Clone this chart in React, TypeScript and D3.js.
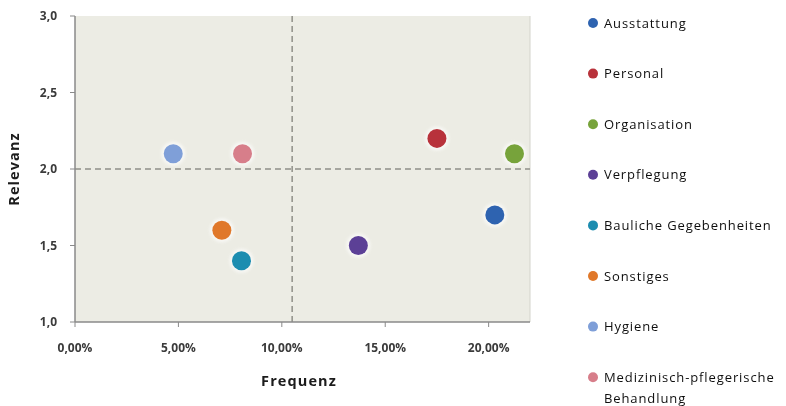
import React from "react";
import * as d3 from "d3";

const categories = [
  "Ausstattung",
  "Personal",
  "Organisation",
  "Verpflegung",
  "Bauliche Gegebenheiten",
  "Sonstiges",
  "Hygiene",
  "Medizinisch-pflegerische Behandlung",
];
const frequenz = [20.3, 17.5, 21.25, 13.7, 8.05, 7.1, 4.75, 8.1];
const relevanz = [1.7, 2.2, 2.1, 1.5, 1.4, 1.6, 2.1, 2.1];
const colors = ["#2f63b0", "#b8323a", "#77a33a", "#5b3f96", "#1e8db0", "#e0782a", "#7f9fd8", "#d77e8a"];
const xTicks = [0, 5, 10, 15, 20];
const yTicks = [1.0, 1.5, 2.0, 2.5, 3.0];
const xDivider = 10.5;
const yDivider = 2.0;

const W = 786;
const H = 406;
const plot = { left: 75, right: 530, top: 16, bottom: 322 };
const font = "'Open Sans', 'Liberation Sans', sans-serif";

export default function App() {
  const x = d3.scaleLinear().domain([0, 22]).range([plot.left, plot.right]);
  const y = d3.scaleLinear().domain([1, 3]).range([plot.bottom, plot.top]);
  const fmtX = (v: number) => d3.format(".2f")(v).replace(".", ",") + "%";
  const fmtY = (v: number) => d3.format(".1f")(v).replace(".", ",");

  const legendX = 593;
  const legendY0 = 23;
  const legendStep = 50.6;

  return (
    <svg width={W} height={H} style={{ position: "absolute", left: 0, top: 0, background: "#fff" }}>
      <defs>
        <filter id="glow" x="-50%" y="-50%" width="200%" height="200%">
          <feGaussianBlur stdDeviation="1.5" />
        </filter>
        <filter id="soft" x="-20%" y="-20%" width="140%" height="140%">
          <feGaussianBlur stdDeviation="0.5" />
        </filter>
      </defs>
      <g filter="url(#soft)">
        <rect
          x={plot.left}
          y={plot.top}
          width={plot.right - plot.left}
          height={plot.bottom - plot.top}
          fill="#ecece4"
        />
        <line x1={plot.right} x2={plot.right} y1={plot.top} y2={plot.bottom} stroke="#d4d4cc" strokeWidth={1} />

        {/* quadrant dividers */}
        <line
          x1={plot.left}
          x2={plot.right}
          y1={y(yDivider)}
          y2={y(yDivider)}
          stroke="#8f8f88"
          strokeWidth={1.5}
          strokeDasharray="6,4"
        />
        <line
          x1={x(xDivider)}
          x2={x(xDivider)}
          y1={plot.top}
          y2={plot.bottom}
          stroke="#8f8f88"
          strokeWidth={1.5}
          strokeDasharray="6,4"
        />

        {/* axes */}
        <line x1={plot.left} x2={plot.left} y1={plot.top} y2={plot.bottom} stroke="#8a8a8a" strokeWidth={1.5} />
        <line x1={plot.left} x2={plot.right} y1={plot.bottom} y2={plot.bottom} stroke="#8a8a8a" strokeWidth={1.5} />
        {yTicks.map((t) => (
          <g key={"y" + t}>
            <line x1={plot.left - 5} x2={plot.left} y1={y(t)} y2={y(t)} stroke="#8a8a8a" strokeWidth={1} />
            <text
              x={57}
              y={y(t)}
              dy="0.35em"
              textAnchor="end"
              fontFamily={font}
              fontSize={12}
              fontWeight={700}
              fill="#3a3a3a"
            >
              {fmtY(t)}
            </text>
          </g>
        ))}
        {xTicks.map((t) => (
          <g key={"x" + t}>
            <line x1={x(t)} x2={x(t)} y1={plot.bottom} y2={plot.bottom + 5} stroke="#8a8a8a" strokeWidth={1} />
            <text
              x={x(t)}
              y={348}
              dy="0.35em"
              textAnchor="middle"
              fontFamily={font}
              fontSize={12}
              fontWeight={700}
              fill="#3a3a3a"
            >
              {fmtX(t)}
            </text>
          </g>
        ))}

        {/* axis titles */}
        <text x={299} y={386} textAnchor="middle" fontFamily={font} fontSize={14.5} fontWeight={700} fill="#1a1a1a" letterSpacing={1.1}>
          Frequenz
        </text>
        <text
          transform={`translate(19,169) rotate(-90)`}
          textAnchor="middle"
          fontFamily={font}
          fontSize={14.5}
          fontWeight={700}
          fill="#1a1a1a"
          letterSpacing={1.1}
        >
          Relevanz
        </text>

        {/* points */}
        {categories.map((c, i) => (
          <g key={c}>
            <circle cx={x(frequenz[i])} cy={y(relevanz[i])} r={12} fill="#ffffff" opacity={0.6} filter="url(#glow)" />
            <circle cx={x(frequenz[i])} cy={y(relevanz[i])} r={9.5} fill={colors[i]} />
          </g>
        ))}

        {/* legend */}
        {categories.map((c, i) => {
          const ly = legendY0 + i * legendStep;
          const words = c === "Medizinisch-pflegerische Behandlung" ? ["Medizinisch-pflegerische", "Behandlung"] : [c];
          return (
            <g key={"l" + c}>
              <circle cx={legendX} cy={ly} r={5} fill={colors[i]} />
              <text x={604} y={ly} fontFamily={font} fontSize={13} fill="#111" letterSpacing={0.9}>
                {words.map((w, k) => (
                  <tspan key={w} x={604} dy={k === 0 ? "0.35em" : "1.6em"}>
                    {w}
                  </tspan>
                ))}
              </text>
            </g>
          );
        })}
      </g>
    </svg>
  );
}
